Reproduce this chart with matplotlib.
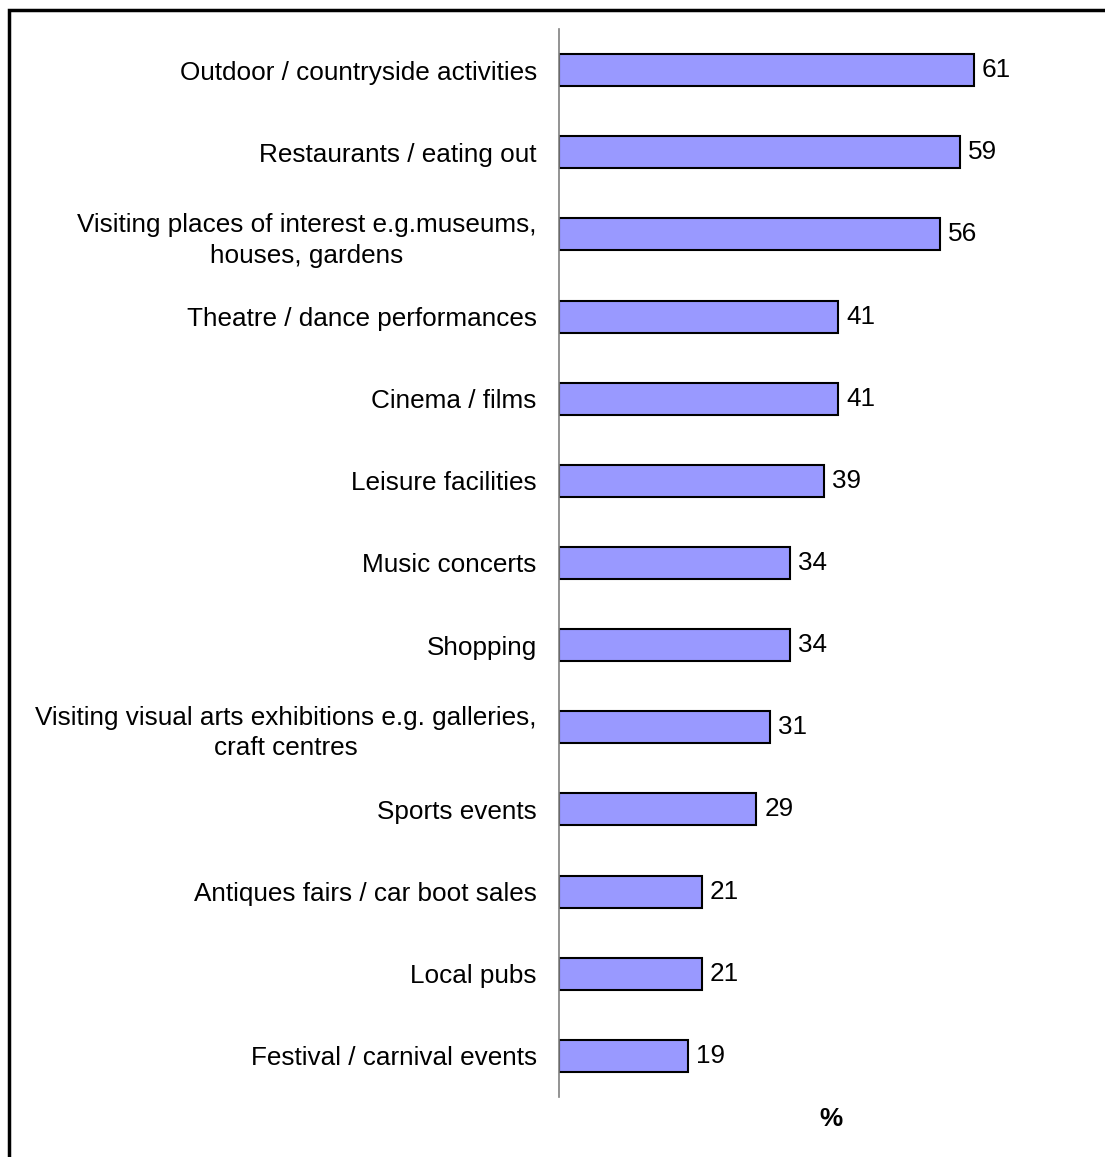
import matplotlib.pyplot as plt
from matplotlib.patches import Rectangle

plt.rcParams['font.family'] = ['Liberation Sans', 'DejaVu Sans']

activities = [
    'Outdoor / countryside activities',
    'Restaurants / eating out',
    'Visiting places of interest e.g.museums,\nhouses, gardens',
    'Theatre / dance performances',
    'Cinema / films',
    'Leisure facilities',
    'Music concerts',
    'Shopping',
    'Visiting visual arts exhibitions e.g. galleries,\ncraft centres',
    'Sports events',
    'Antiques fairs / car boot sales',
    'Local pubs',
    'Festival / carnival events',
]
percent = [61, 59, 56, 41, 41, 39, 34, 34, 31, 29, 21, 21, 19]

fs = 18.8

fig = plt.figure(figsize=(11.05, 11.57), dpi=100)
ax = fig.add_axes([559 / 1105, 1 - 1097 / 1157, 544 / 1105, 1068 / 1157])

pos = list(range(len(activities)))
bars = ax.barh(pos, percent, height=0.39, color='#9999FF',
               edgecolor='black', linewidth=1.5)

for b, v in zip(bars, percent):
    ax.text(b.get_width() + 1.2, b.get_y() + b.get_height() / 2, str(v),
            va='center', ha='left', fontsize=fs)

ax.set_ylim(len(activities) - 0.5, -0.5)
ax.set_xlim(0, 80)
ax.set_yticks(pos)
ax.set_yticklabels(activities, fontsize=fs, linespacing=1.35,
                   multialignment='center')
ax.tick_params(axis='y', length=0, pad=16)
ax.set_xticks([])

for side in ['top', 'right', 'bottom']:
    ax.spines[side].set_visible(False)
ax.spines['left'].set_color('#808080')
ax.spines['left'].set_linewidth(1.2)

ax.set_xlabel('%', fontsize=fs, fontweight='bold')
ax.xaxis.set_label_coords(0.5, -0.009, transform=ax.transAxes)
ax.xaxis.label.set_va('top')

# outer frame around the chart area
fig.patches.append(Rectangle((9 / 1105, -0.1), 1.2, 1 - 10 / 1157 + 0.1,
                             transform=fig.transFigure, fill=False,
                             edgecolor='black', linewidth=2.5))

fig.savefig('out.png', dpi=100)
